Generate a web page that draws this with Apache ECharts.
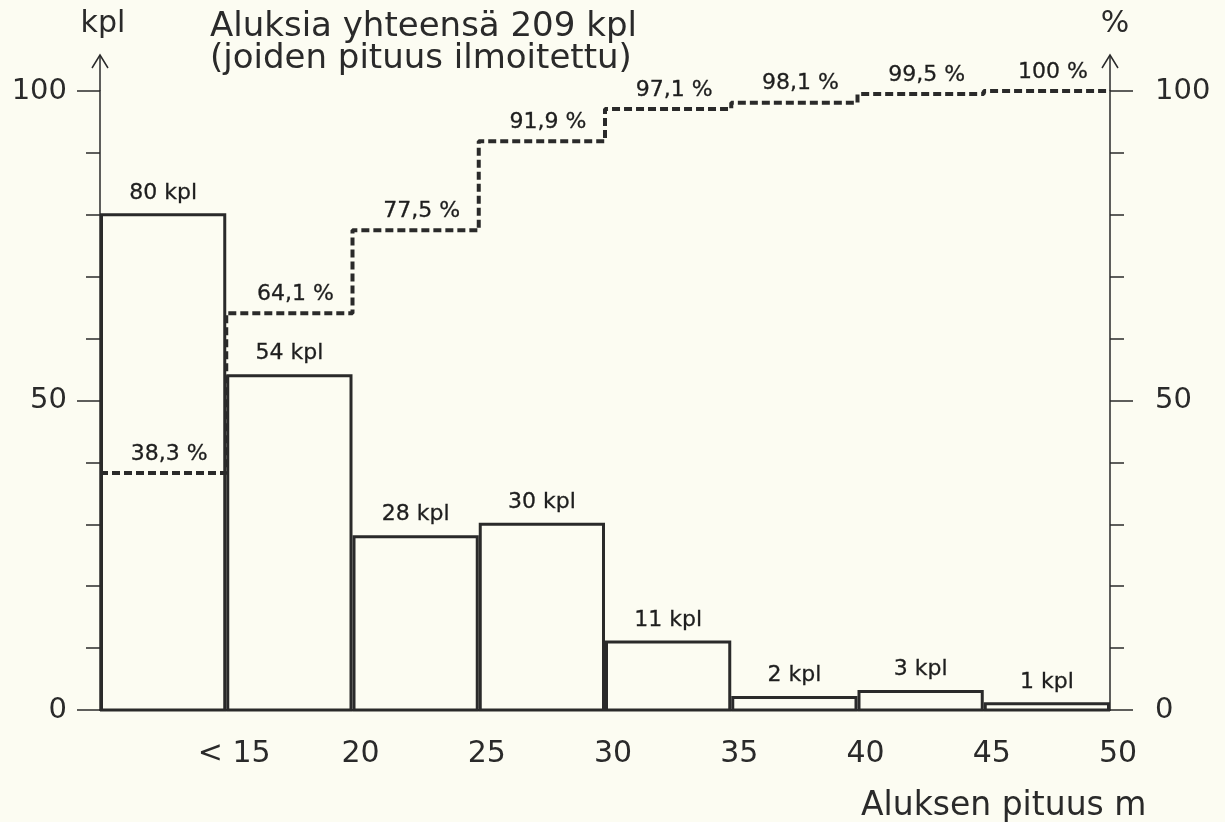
<!DOCTYPE html>
<html>
<head>
<meta charset="utf-8">
<script src="https://cdn.jsdelivr.net/npm/echarts@6/dist/echarts.min.js"></script>
<style>html,body{margin:0;padding:0;background:#fcfcf2;}#c{width:1225px;height:822px;}</style>
</head>
<body>
<div id="c"></div>
<script>
// ---- data ----
const binStarts = [10, 15, 20, 25, 30, 35, 40, 45];
const binEnds   = [15, 20, 25, 30, 35, 40, 45, 50];
const counts    = [80, 54, 28, 30, 11, 2, 3, 1];
const cumulativePct = [38.3, 64.1, 77.5, 91.9, 97.1, 98.1, 99.5, 100];
const xTickLabels = { 15: '< 15', 20: '20', 25: '25', 30: '30', 35: '35', 40: '40', 45: '45', 50: '50' };
const yTickLabels = [0, 50, 100];
const titleText = 'Aluksia yhteensä 209 kpl\n(joiden pituus ilmoitettu)';
const xName = 'Aluksen pituus m';
const yNameLeft = 'kpl';
const yNameRight = '%';

const BG = '#fcfcf2';
const INK = '#2a2a2a';
const LBL = '#1e1e1e';
const FONT = 'DejaVu Sans';

const barData = binStarts.map((s, i) => [s, binEnds[i], counts[i]]);
const barLabelData = binStarts.map((s, i) => [(s + binEnds[i]) / 2, counts[i]]);
const stepData = binStarts.map((s, i) => [s, cumulativePct[i]]);
stepData.push([binEnds[binEnds.length - 1], cumulativePct[cumulativePct.length - 1]]);
const pctLabelData = binStarts.map((s, i) => [(s + binEnds[i]) / 2, cumulativePct[i]]);
const fmtPct = v => String(v).replace('.', ',') + ' %';

const chart = echarts.init(document.getElementById('c'), null, { renderer: 'canvas' });

const yAxisCommon = {
  type: 'value', min: 0, max: 100, interval: 50,
  axisLine: { show: true, lineStyle: { color: INK, width: 1.5 } },
  axisTick: { show: true, length: 23, lineStyle: { color: INK, width: 1.5 } },
  minorTick: { show: true, splitNumber: 5, length: 14, lineStyle: { color: INK, width: 1.5 } },
  splitLine: { show: false },
  axisLabel: {
    margin: 33, fontFamily: FONT, fontSize: 29, color: INK,
    formatter: v => (yTickLabels.indexOf(v) >= 0 ? String(v) : '')
  }
};

const labelCommon = {
  show: true, position: 'top', fontFamily: FONT, fontSize: 22, color: LBL, opacity: 1,
  textBorderColor: LBL, textBorderWidth: 0.3
};

chart.setOption({
  backgroundColor: BG,
  animation: false,
  title: [
    {
      text: titleText, left: 205, top: 6,
      textStyle: { fontFamily: FONT, fontSize: 34, fontWeight: 'normal', color: INK, lineHeight: 32 }
    },
    {
      text: xName, left: 856, top: 785,
      textStyle: { fontFamily: FONT, fontSize: 33, fontWeight: 'normal', color: INK }
    }
  ],
  grid: { left: 100, right: 115, top: 91, bottom: 112, containLabel: false, outerBoundsMode: 'none' },
  xAxis: {
    type: 'value', min: 10, max: 50, interval: 5,
    axisLine: { show: true, lineStyle: { color: INK, width: 2 } },
    axisTick: { show: false },
    splitLine: { show: false },
    axisLabel: {
      margin: 29, fontFamily: FONT, fontSize: 30, color: INK, showMinLabel: true,
      padding: [0, 0, 0, 16],
      formatter: v => (xTickLabels[v] !== undefined ? xTickLabels[v] : '')
    }
  },
  yAxis: [
    Object.assign({}, yAxisCommon, {
      position: 'left',
      name: yNameLeft, nameLocation: 'end', nameGap: 52,
      nameTextStyle: { fontFamily: FONT, fontSize: 30, color: INK, align: 'center', padding: [0, 0, 0, 6] }
    }),
    Object.assign({}, yAxisCommon, {
      position: 'right',
      name: yNameRight, nameLocation: 'end', nameGap: 52,
      nameTextStyle: { fontFamily: FONT, fontSize: 30, color: INK, align: 'center', padding: [0, 0, 0, 10] },
      axisLabel: Object.assign({}, yAxisCommon.axisLabel, { margin: 45 })
    })
  ],
  series: [
    {
      type: 'custom', name: 'kpl', xAxisIndex: 0, yAxisIndex: 0,
      data: barData,
      encode: { x: [0, 1], y: 2 },
      renderItem: function (params, api) {
        const p0 = api.coord([api.value(0), api.value(2)]);
        const p1 = api.coord([api.value(1), 0]);
        return {
          type: 'rect',
          shape: { x: p0[0] + 1.5, y: p0[1], width: p1[0] - p0[0] - 3, height: p1[1] - p0[1] },
          style: { fill: BG, stroke: INK, lineWidth: 3 }
        };
      },
      z: 2
    },
    {
      type: 'scatter', yAxisIndex: 0, data: barLabelData, symbolSize: 0, silent: true,
      label: Object.assign({}, labelCommon, { distance: 11, formatter: p => p.value[1] + ' kpl' }),
      z: 5
    },
    {
      type: 'line', yAxisIndex: 1, data: stepData, step: 'end', symbol: 'none',
      lineStyle: { color: INK, width: 4, type: [8, 4] },
      z: 4
    },
    {
      type: 'scatter', yAxisIndex: 1, data: pctLabelData, symbolSize: 0, silent: true,
      label: Object.assign({}, labelCommon, { distance: 8, offset: [6, 0], formatter: p => fmtPct(p.value[1]) }),
      z: 5
    }
  ]
});

// axis arrows extending above the plot area
const topL = chart.convertToPixel({ gridIndex: 0 }, [10, 100]);
const topR = chart.convertToPixel({ gridIndex: 0 }, [50, 100]);
const ext = 36, ah = 8;
function arrow(x, y) {
  return [
    { type: 'line', shape: { x1: x, y1: y, x2: x, y2: y - ext }, style: { stroke: INK, lineWidth: 1.5 } },
    { type: 'polyline', shape: { points: [[x - ah, y - ext + 13], [x, y - ext], [x + ah, y - ext + 13]] }, style: { stroke: INK, lineWidth: 1.5, fill: null } }
  ];
}
chart.setOption({ graphic: arrow(topL[0], topL[1]).concat(arrow(topR[0], topR[1])) });
</script>
</body>
</html>
